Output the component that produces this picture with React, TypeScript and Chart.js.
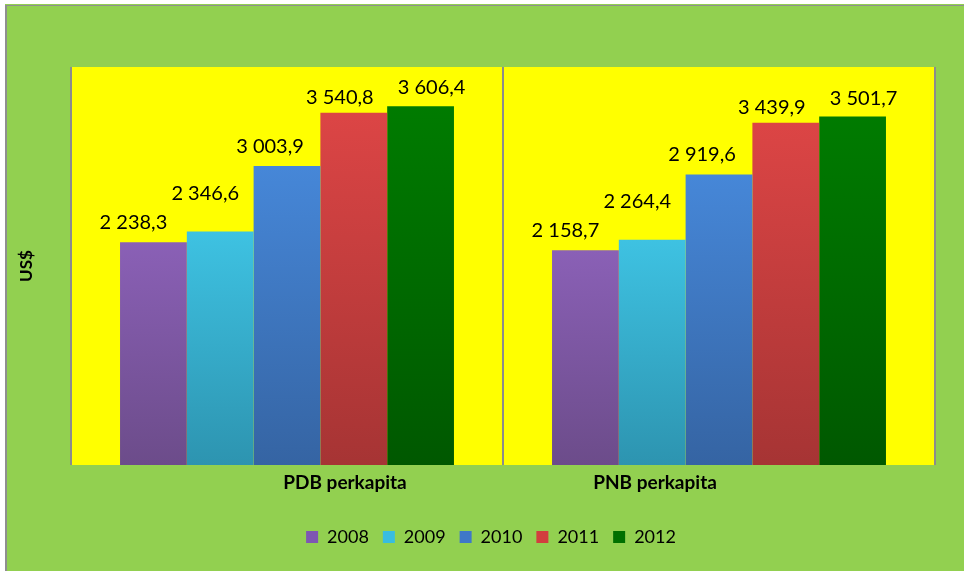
import React, { useEffect, useRef } from "react";
import { Chart, registerables } from "chart.js";

Chart.register(...registerables);

const categories = ["PDB perkapita", "PNB perkapita"];
const years = ["2008", "2009", "2010", "2011", "2012"];
const pdbValues = [2238.3, 2346.6, 3003.9, 3540.8, 3606.4];
const pnbValues = [2158.7, 2264.4, 2919.6, 3439.9, 3501.7];
const yAxisTitle = "US$";

const topColors = ["#8a60b6", "#3ec2e2", "#4687d8", "#dc4545", "#007b00"];
const bottomColors = ["#6c4c8a", "#2d94b0", "#3564a3", "#a63434", "#005800"];
const legendColors = ["#7e57b2", "#38bde0", "#3f78c8", "#d23e3e", "#007000"];
const labelShift = [-20, -15, -17, -14, 11];
const labelLift = [13, 32, 13, 9, 12];
const categoryLabelShift = [58, -64];

const FONT = "Lato, 'Open Sans', sans-serif";

function fmt(v: number): string {
  const [i, d] = v.toFixed(1).split(".");
  const withSpaces = i.replace(/\B(?=(\d{3})+(?!\d))/g, " ");
  return withSpaces + "," + d;
}

export default function App() {
  const ref = useRef<HTMLCanvasElement | null>(null);

  useEffect(() => {
    document.body.style.margin = "0";
    const canvas = ref.current;
    if (!canvas) return;

    const framePlugin = {
      id: "frame",
      afterLayout(chart: any) {
        const lg = chart.legend;
        if (lg) {
          lg.left -= 12;
          lg.right -= 12;
        }
      },
      beforeDraw(chart: any) {
        const { ctx, width, height, chartArea } = chart;
        ctx.save();
        ctx.fillStyle = "#ffffff";
        ctx.fillRect(0, 0, width, height);
        ctx.fillStyle = "#92d050";
        ctx.fillRect(5, 4, width - 5, height - 4);
        ctx.fillStyle = "#8f8f8f";
        ctx.fillRect(5, 5, 2, height - 5);
        ctx.fillRect(5, 5, width - 5, 1);
        ctx.fillStyle = "#ffff00";
        ctx.fillRect(
          chartArea.left,
          chartArea.top,
          chartArea.right - chartArea.left,
          chartArea.bottom - chartArea.top
        );
        ctx.restore();
      },
      afterDraw(chart: any) {
        const { ctx, chartArea } = chart;
        const xs = chart.scales.x;
        ctx.save();
        ctx.fillStyle = "#000";
        ctx.font = `bold 19px ${FONT}`;
        ctx.textAlign = "center";
        ctx.textBaseline = "middle";
        categories.forEach((c, i) => {
          ctx.fillText(c, xs.getPixelForValue(i) + categoryLabelShift[i], chartArea.bottom + 18);
        });
        ctx.translate(27, (chartArea.top + chartArea.bottom) / 2);
        ctx.rotate(-Math.PI / 2);
        ctx.font = `bold 17px ${FONT}`;
        ctx.fillText(yAxisTitle, 0, 0);
        ctx.restore();
      },
      afterDatasetsDraw(chart: any) {
        const { ctx } = chart;
        ctx.save();
        ctx.fillStyle = "#000";
        ctx.font = `20px ${FONT}`;
        ctx.textAlign = "center";
        ctx.textBaseline = "alphabetic";
        chart.data.datasets.forEach((ds: any, di: number) => {
          const meta = chart.getDatasetMeta(di);
          meta.data.forEach((bar: any, i: number) => {
            ctx.fillText(fmt(ds.data[i]), bar.x + labelShift[di], bar.y - labelLift[di]);
          });
        });
        ctx.restore();
      },
    };

    const chart = new Chart(canvas, {
      type: "bar",
      data: {
        labels: categories,
        datasets: years.map((y, di) => ({
          label: y,
          data: [pdbValues[di], pnbValues[di]],
          backgroundColor: (c: any) => {
            const ch = c.chart;
            const area = ch.chartArea;
            if (!area || c.raw == null) return topColors[di];
            const top = ch.scales.y.getPixelForValue(c.raw);
            const g = ch.ctx.createLinearGradient(0, top, 0, area.bottom);
            g.addColorStop(0, topColors[di]);
            g.addColorStop(1, bottomColors[di]);
            return g;
          },
          borderWidth: 0,
          barPercentage: 1,
          categoryPercentage: 0.773,
        })),
      },
      options: {
        responsive: false,
        animation: false,
        layout: { padding: { left: 71, right: 29, top: 67, bottom: 15 } },
        scales: {
          x: {
            display: true,
            grid: { offset: true, color: "#8c8c8c", lineWidth: 2, drawTicks: false },
            border: { display: false },
            ticks: { display: false },
            afterFit: (s: any) => {
              s.height = 49;
            },
          },
          y: { display: false, min: 0, max: 4000 },
        },
        plugins: {
          tooltip: { enabled: false },
          legend: {
            position: "bottom",
            labels: {
              boxWidth: 12,
              boxHeight: 12,
              padding: 14,
              color: "#000",
              font: { family: FONT, size: 18 },
              generateLabels: (ch: any) =>
                ch.data.datasets.map((ds: any, i: number) => ({
                  text: ds.label,
                  fillStyle: legendColors[i],
                  strokeStyle: legendColors[i],
                  lineWidth: 0,
                  hidden: false,
                  datasetIndex: i,
                  fontColor: "#000",
                })),
            },
          },
        },
      },
      plugins: [framePlugin],
    });
    return () => chart.destroy();
  }, []);

  return (
    <div style={{ width: 964, height: 571 }}>
      <canvas ref={ref} width={964} height={571} />
    </div>
  );
}
